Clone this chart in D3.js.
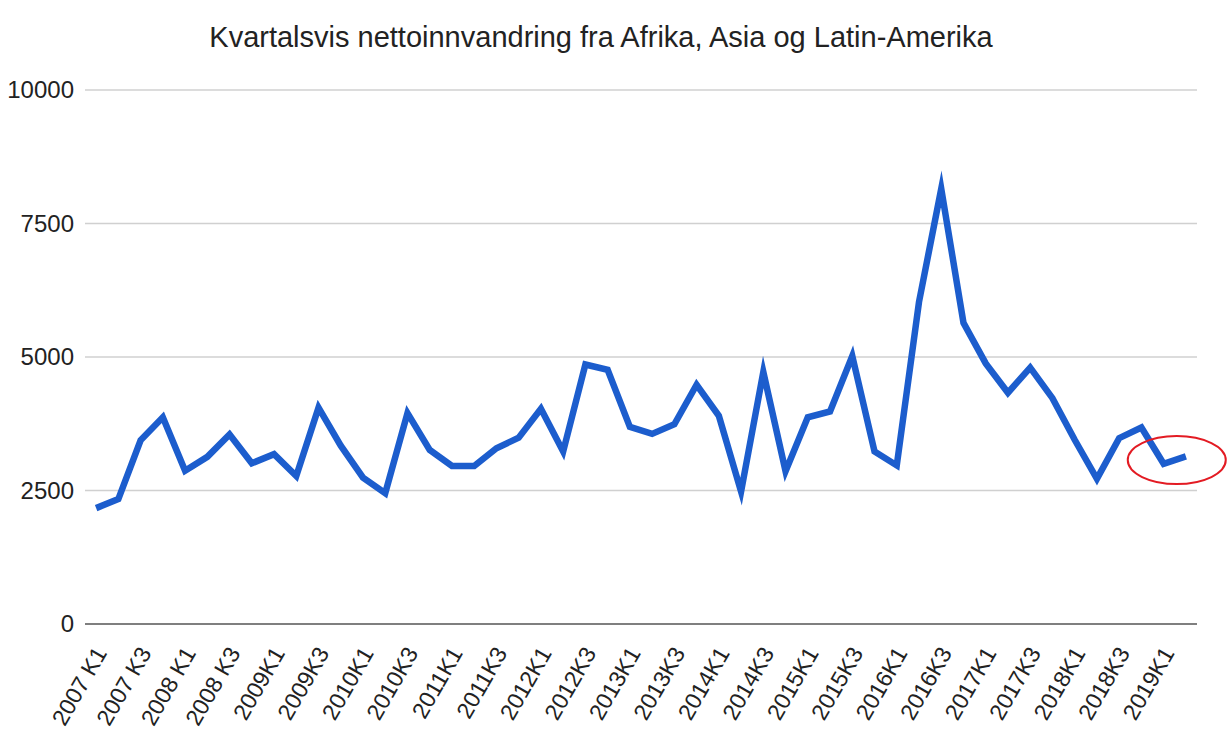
<!DOCTYPE html>
<html>
<head>
<meta charset="utf-8">
<script src="https://cdn.jsdelivr.net/npm/d3@7"></script>
<style>
  body { margin: 0; background: #fff; }
  svg { display: block; font-family: "Liberation Sans", Arial, sans-serif; }
  .grid line { stroke: #d0d0d0; stroke-width: 1.5; }
  .line { fill: none; stroke: #1c5dcd; stroke-width: 6.5; stroke-miterlimit: 10; }
</style>
</head>
<body>
<script>
// kvartaler (kategorier)
const quarters = [
  "2007 K1", "2007 K2", "2007 K3", "2007 K4",
  "2008 K1", "2008 K2", "2008 K3", "2008 K4",
  "2009K1", "2009K2", "2009K3", "2009K4",
  "2010K1", "2010K2", "2010K3", "2010K4",
  "2011K1", "2011K2", "2011K3", "2011K4",
  "2012K1", "2012K2", "2012K3", "2012K4",
  "2013K1", "2013K2", "2013K3", "2013K4",
  "2014K1", "2014K2", "2014K3", "2014K4",
  "2015K1", "2015K2", "2015K3", "2015K4",
  "2016K1", "2016K2", "2016K3", "2016K4",
  "2017K1", "2017K2", "2017K3", "2017K4",
  "2018K1", "2018K2", "2018K3", "2018K4",
  "2019K1", "2019K2"
];

// nettoinnvandring per kvartal (lest av grafen)
const netto = [
  2170, 2340, 3440, 3870,
  2870, 3130, 3550, 3010,
  3180, 2770, 4050, 3340,
  2740, 2450, 3950, 3260,
  2960, 2960, 3290, 3490,
  4030, 3230, 4860, 4760,
  3690, 3560, 3740, 4480,
  3900, 2480, 4720, 2860,
  3870, 3980, 5020, 3230,
  2970, 6030, 8150, 5640,
  4880, 4330, 4800, 4230,
  3450, 2720, 3480, 3680,
  3000, 3140
];

// aksemerker
const xTickLabels = quarters.filter((q, i) => i % 2 === 0);
const yTicks = [0, 2500, 5000, 7500, 10000];

// markering rundt siste kvartaler
const highlight = { from: "2019K1", to: "2019K2", value: 3070 };

const width = 1231, height = 739;

const x = d3.scalePoint()
  .domain(quarters)
  .range([85, 1197])
  .padding(0.5);

const y = d3.scaleLinear()
  .domain([0, 10000])
  .range([624, 90]);

const svg = d3.select("body").append("svg")
  .attr("width", width)
  .attr("height", height);

svg.append("text")
  .attr("x", 601)
  .attr("y", 47)
  .attr("text-anchor", "middle")
  .style("font-size", "29px")
  .style("fill", "#222")
  .text("Kvartalsvis nettoinnvandring fra Afrika, Asia og Latin-Amerika");

// rutenett
svg.append("g")
  .attr("class", "grid")
  .selectAll("line")
  .data(yTicks.filter(d => d > 0))
  .enter().append("line")
  .attr("x1", 85).attr("x2", 1197)
  .attr("y1", d => y(d)).attr("y2", d => y(d));

// y-akse
const yAxis = svg.append("g")
  .attr("transform", "translate(85,0)")
  .call(d3.axisLeft(y).tickValues(yTicks).tickSize(0).tickPadding(11).tickFormat(d3.format("d")));
yAxis.select(".domain").remove();
yAxis.selectAll("text")
  .style("font-size", "24px")
  .style("font-family", "'Liberation Sans', Arial, sans-serif")
  .style("fill", "#222");

// x-akse
const xAxis = svg.append("g")
  .attr("transform", `translate(0,${y(0)})`)
  .call(d3.axisBottom(x).tickValues(xTickLabels).tickSize(0).tickPadding(0));
xAxis.select(".domain")
  .attr("d", "M85,0H1197")
  .style("stroke", "#555")
  .style("stroke-width", 1.5);
xAxis.selectAll("text")
  .attr("text-anchor", "end")
  .attr("transform", "translate(11,29) rotate(-60)")
  .attr("y", 0)
  .attr("dy", "0")
  .style("font-size", "23px")
  .style("font-family", "'Liberation Sans', Arial, sans-serif")
  .style("fill", "#222");

// linja
const line = d3.line()
  .x((d, i) => x(quarters[i]))
  .y(d => y(d));

svg.append("path")
  .datum(netto)
  .attr("class", "line")
  .attr("d", line);

// rød ring
svg.append("ellipse")
  .attr("cx", (x(highlight.from) + x(highlight.to)) / 2 + 2)
  .attr("cy", y(highlight.value))
  .attr("rx", 49)
  .attr("ry", 24)
  .style("fill", "none")
  .style("stroke", "#e31b23")
  .style("stroke-width", 2);
</script>
</body>
</html>
